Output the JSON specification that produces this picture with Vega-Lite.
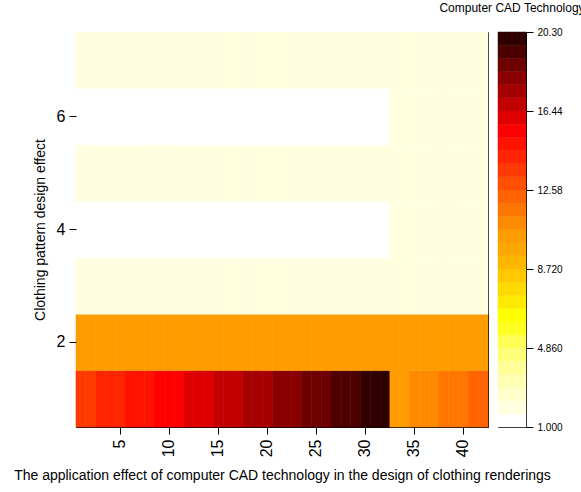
{
  "$schema": "https://vega.github.io/schema/vega-lite/v6.json",
  "background": "white",
  "padding": {"left": 13, "top": 1, "right": 0, "bottom": 0},
  "spacing": 10,
  "bounds": "flush",
  "config": {
    "font": "Liberation Sans",
    "view": {"stroke": "#000", "strokeWidth": 1},
    "axis": {"domain": false, "grid": false, "tickColor": "#000", "tickSize": 7, "labelColor": "#000", "titleColor": "#000", "labelFont": "Liberation Sans", "titleFont": "Liberation Sans", "titleFontWeight": "normal", "labelFontSize": 16, "titleFontSize": 14}
  },
  "datasets": {
    "cells": [
      {"x":1,"y":1,"z":13.5},{"x":2,"y":1,"z":13.5},{"x":3,"y":1,"z":14.2},{"x":4,"y":1,"z":14.2},{"x":5,"y":1,"z":14.2},{"x":6,"y":1,"z":14.8},{"x":7,"y":1,"z":14.8},{"x":8,"y":1,"z":14.8},{"x":9,"y":1,"z":15.5},{"x":10,"y":1,"z":15.5},{"x":11,"y":1,"z":15.5},{"x":12,"y":1,"z":16.1},{"x":13,"y":1,"z":16.1},{"x":14,"y":1,"z":16.1},{"x":15,"y":1,"z":16.8},{"x":16,"y":1,"z":16.8},{"x":17,"y":1,"z":16.8},{"x":18,"y":1,"z":17.4},{"x":19,"y":1,"z":17.4},{"x":20,"y":1,"z":17.4},{"x":21,"y":1,"z":18.0},{"x":22,"y":1,"z":18.0},{"x":23,"y":1,"z":18.0},{"x":24,"y":1,"z":18.7},{"x":25,"y":1,"z":18.7},{"x":26,"y":1,"z":18.7},{"x":27,"y":1,"z":19.3},{"x":28,"y":1,"z":19.3},{"x":29,"y":1,"z":19.3},{"x":30,"y":1,"z":20.0},{"x":31,"y":1,"z":20.0},{"x":32,"y":1,"z":20.0},{"x":33,"y":1,"z":10.3},{"x":34,"y":1,"z":10.3},{"x":35,"y":1,"z":11.0},{"x":36,"y":1,"z":11.0},{"x":37,"y":1,"z":11.0},{"x":38,"y":1,"z":11.6},{"x":39,"y":1,"z":11.6},{"x":40,"y":1,"z":11.6},{"x":41,"y":1,"z":12.2},{"x":42,"y":1,"z":12.2},
      {"x":1,"y":2,"z":10.3},{"x":2,"y":2,"z":10.3},{"x":3,"y":2,"z":10.3},{"x":4,"y":2,"z":10.3},{"x":5,"y":2,"z":10.3},{"x":6,"y":2,"z":10.3},{"x":7,"y":2,"z":10.3},{"x":8,"y":2,"z":10.3},{"x":9,"y":2,"z":10.3},{"x":10,"y":2,"z":10.3},{"x":11,"y":2,"z":10.3},{"x":12,"y":2,"z":10.3},{"x":13,"y":2,"z":10.3},{"x":14,"y":2,"z":10.3},{"x":15,"y":2,"z":10.3},{"x":16,"y":2,"z":10.3},{"x":17,"y":2,"z":10.3},{"x":18,"y":2,"z":10.3},{"x":19,"y":2,"z":10.3},{"x":20,"y":2,"z":10.3},{"x":21,"y":2,"z":10.3},{"x":22,"y":2,"z":10.3},{"x":23,"y":2,"z":10.3},{"x":24,"y":2,"z":10.3},{"x":25,"y":2,"z":10.3},{"x":26,"y":2,"z":10.3},{"x":27,"y":2,"z":10.3},{"x":28,"y":2,"z":10.3},{"x":29,"y":2,"z":10.3},{"x":30,"y":2,"z":10.3},{"x":31,"y":2,"z":10.3},{"x":32,"y":2,"z":10.3},{"x":33,"y":2,"z":10.3},{"x":34,"y":2,"z":10.3},{"x":35,"y":2,"z":10.3},{"x":36,"y":2,"z":10.3},{"x":37,"y":2,"z":10.3},{"x":38,"y":2,"z":10.3},{"x":39,"y":2,"z":10.3},{"x":40,"y":2,"z":10.3},{"x":41,"y":2,"z":10.3},{"x":42,"y":2,"z":10.3},
      {"x":1,"y":3,"z":2.0},{"x":2,"y":3,"z":2.0},{"x":3,"y":3,"z":2.0},{"x":4,"y":3,"z":2.0},{"x":5,"y":3,"z":2.0},{"x":6,"y":3,"z":2.0},{"x":7,"y":3,"z":2.0},{"x":8,"y":3,"z":2.0},{"x":9,"y":3,"z":2.0},{"x":10,"y":3,"z":2.0},{"x":11,"y":3,"z":2.0},{"x":12,"y":3,"z":2.0},{"x":13,"y":3,"z":2.0},{"x":14,"y":3,"z":2.0},{"x":15,"y":3,"z":2.0},{"x":16,"y":3,"z":2.0},{"x":17,"y":3,"z":2.0},{"x":18,"y":3,"z":2.0},{"x":19,"y":3,"z":2.0},{"x":20,"y":3,"z":2.0},{"x":21,"y":3,"z":2.0},{"x":22,"y":3,"z":2.0},{"x":23,"y":3,"z":2.0},{"x":24,"y":3,"z":2.0},{"x":25,"y":3,"z":2.0},{"x":26,"y":3,"z":2.0},{"x":27,"y":3,"z":2.0},{"x":28,"y":3,"z":2.0},{"x":29,"y":3,"z":2.0},{"x":30,"y":3,"z":2.0},{"x":31,"y":3,"z":2.0},{"x":32,"y":3,"z":2.0},{"x":33,"y":3,"z":2.0},{"x":34,"y":3,"z":2.0},{"x":35,"y":3,"z":2.0},{"x":36,"y":3,"z":2.0},{"x":37,"y":3,"z":2.0},{"x":38,"y":3,"z":2.0},{"x":39,"y":3,"z":2.0},{"x":40,"y":3,"z":2.0},{"x":41,"y":3,"z":2.0},{"x":42,"y":3,"z":2.0},
      {"x":1,"y":4,"z":1.0},{"x":2,"y":4,"z":1.0},{"x":3,"y":4,"z":1.0},{"x":4,"y":4,"z":1.0},{"x":5,"y":4,"z":1.0},{"x":6,"y":4,"z":1.0},{"x":7,"y":4,"z":1.0},{"x":8,"y":4,"z":1.0},{"x":9,"y":4,"z":1.0},{"x":10,"y":4,"z":1.0},{"x":11,"y":4,"z":1.0},{"x":12,"y":4,"z":1.0},{"x":13,"y":4,"z":1.0},{"x":14,"y":4,"z":1.0},{"x":15,"y":4,"z":1.0},{"x":16,"y":4,"z":1.0},{"x":17,"y":4,"z":1.0},{"x":18,"y":4,"z":1.0},{"x":19,"y":4,"z":1.0},{"x":20,"y":4,"z":1.0},{"x":21,"y":4,"z":1.0},{"x":22,"y":4,"z":1.0},{"x":23,"y":4,"z":1.0},{"x":24,"y":4,"z":1.0},{"x":25,"y":4,"z":1.0},{"x":26,"y":4,"z":1.0},{"x":27,"y":4,"z":1.0},{"x":28,"y":4,"z":1.0},{"x":29,"y":4,"z":1.0},{"x":30,"y":4,"z":1.0},{"x":31,"y":4,"z":1.0},{"x":32,"y":4,"z":1.0},{"x":33,"y":4,"z":2.0},{"x":34,"y":4,"z":2.0},{"x":35,"y":4,"z":2.0},{"x":36,"y":4,"z":2.0},{"x":37,"y":4,"z":2.0},{"x":38,"y":4,"z":2.0},{"x":39,"y":4,"z":2.0},{"x":40,"y":4,"z":2.0},{"x":41,"y":4,"z":2.0},{"x":42,"y":4,"z":2.0},
      {"x":1,"y":5,"z":2.0},{"x":2,"y":5,"z":2.0},{"x":3,"y":5,"z":2.0},{"x":4,"y":5,"z":2.0},{"x":5,"y":5,"z":2.0},{"x":6,"y":5,"z":2.0},{"x":7,"y":5,"z":2.0},{"x":8,"y":5,"z":2.0},{"x":9,"y":5,"z":2.0},{"x":10,"y":5,"z":2.0},{"x":11,"y":5,"z":2.0},{"x":12,"y":5,"z":2.0},{"x":13,"y":5,"z":2.0},{"x":14,"y":5,"z":2.0},{"x":15,"y":5,"z":2.0},{"x":16,"y":5,"z":2.0},{"x":17,"y":5,"z":2.0},{"x":18,"y":5,"z":2.0},{"x":19,"y":5,"z":2.0},{"x":20,"y":5,"z":2.0},{"x":21,"y":5,"z":2.0},{"x":22,"y":5,"z":2.0},{"x":23,"y":5,"z":2.0},{"x":24,"y":5,"z":2.0},{"x":25,"y":5,"z":2.0},{"x":26,"y":5,"z":2.0},{"x":27,"y":5,"z":2.0},{"x":28,"y":5,"z":2.0},{"x":29,"y":5,"z":2.0},{"x":30,"y":5,"z":2.0},{"x":31,"y":5,"z":2.0},{"x":32,"y":5,"z":2.0},{"x":33,"y":5,"z":2.0},{"x":34,"y":5,"z":2.0},{"x":35,"y":5,"z":2.0},{"x":36,"y":5,"z":2.0},{"x":37,"y":5,"z":2.0},{"x":38,"y":5,"z":2.0},{"x":39,"y":5,"z":2.0},{"x":40,"y":5,"z":2.0},{"x":41,"y":5,"z":2.0},{"x":42,"y":5,"z":2.0},
      {"x":1,"y":6,"z":1.0},{"x":2,"y":6,"z":1.0},{"x":3,"y":6,"z":1.0},{"x":4,"y":6,"z":1.0},{"x":5,"y":6,"z":1.0},{"x":6,"y":6,"z":1.0},{"x":7,"y":6,"z":1.0},{"x":8,"y":6,"z":1.0},{"x":9,"y":6,"z":1.0},{"x":10,"y":6,"z":1.0},{"x":11,"y":6,"z":1.0},{"x":12,"y":6,"z":1.0},{"x":13,"y":6,"z":1.0},{"x":14,"y":6,"z":1.0},{"x":15,"y":6,"z":1.0},{"x":16,"y":6,"z":1.0},{"x":17,"y":6,"z":1.0},{"x":18,"y":6,"z":1.0},{"x":19,"y":6,"z":1.0},{"x":20,"y":6,"z":1.0},{"x":21,"y":6,"z":1.0},{"x":22,"y":6,"z":1.0},{"x":23,"y":6,"z":1.0},{"x":24,"y":6,"z":1.0},{"x":25,"y":6,"z":1.0},{"x":26,"y":6,"z":1.0},{"x":27,"y":6,"z":1.0},{"x":28,"y":6,"z":1.0},{"x":29,"y":6,"z":1.0},{"x":30,"y":6,"z":1.0},{"x":31,"y":6,"z":1.0},{"x":32,"y":6,"z":1.0},{"x":33,"y":6,"z":2.0},{"x":34,"y":6,"z":2.0},{"x":35,"y":6,"z":2.0},{"x":36,"y":6,"z":2.0},{"x":37,"y":6,"z":2.0},{"x":38,"y":6,"z":2.0},{"x":39,"y":6,"z":2.0},{"x":40,"y":6,"z":2.0},{"x":41,"y":6,"z":2.0},{"x":42,"y":6,"z":2.0},
      {"x":1,"y":7,"z":2.0},{"x":2,"y":7,"z":2.0},{"x":3,"y":7,"z":2.0},{"x":4,"y":7,"z":2.0},{"x":5,"y":7,"z":2.0},{"x":6,"y":7,"z":2.0},{"x":7,"y":7,"z":2.0},{"x":8,"y":7,"z":2.0},{"x":9,"y":7,"z":2.0},{"x":10,"y":7,"z":2.0},{"x":11,"y":7,"z":2.0},{"x":12,"y":7,"z":2.0},{"x":13,"y":7,"z":2.0},{"x":14,"y":7,"z":2.0},{"x":15,"y":7,"z":2.0},{"x":16,"y":7,"z":2.0},{"x":17,"y":7,"z":2.0},{"x":18,"y":7,"z":2.0},{"x":19,"y":7,"z":2.0},{"x":20,"y":7,"z":2.0},{"x":21,"y":7,"z":2.0},{"x":22,"y":7,"z":2.0},{"x":23,"y":7,"z":2.0},{"x":24,"y":7,"z":2.0},{"x":25,"y":7,"z":2.0},{"x":26,"y":7,"z":2.0},{"x":27,"y":7,"z":2.0},{"x":28,"y":7,"z":2.0},{"x":29,"y":7,"z":2.0},{"x":30,"y":7,"z":2.0},{"x":31,"y":7,"z":2.0},{"x":32,"y":7,"z":2.0},{"x":33,"y":7,"z":2.0},{"x":34,"y":7,"z":2.0},{"x":35,"y":7,"z":2.0},{"x":36,"y":7,"z":2.0},{"x":37,"y":7,"z":2.0},{"x":38,"y":7,"z":2.0},{"x":39,"y":7,"z":2.0},{"x":40,"y":7,"z":2.0},{"x":41,"y":7,"z":2.0},{"x":42,"y":7,"z":2.0}
    ],
    "bands": [
      {"z":1,"z2":1.6433},{"z":1.6433,"z2":2.2867},{"z":2.2867,"z2":2.93},{"z":2.93,"z2":3.5733},{"z":3.5733,"z2":4.2167},{"z":4.2167,"z2":4.86},{"z":4.86,"z2":5.5033},{"z":5.5033,"z2":6.1467},{"z":6.1467,"z2":6.79},{"z":6.79,"z2":7.4333},{"z":7.4333,"z2":8.0767},{"z":8.0767,"z2":8.72},{"z":8.72,"z2":9.3633},{"z":9.3633,"z2":10.0067},{"z":10.0067,"z2":10.65},{"z":10.65,"z2":11.2933},{"z":11.2933,"z2":11.9367},{"z":11.9367,"z2":12.58},{"z":12.58,"z2":13.2233},{"z":13.2233,"z2":13.8667},{"z":13.8667,"z2":14.51},{"z":14.51,"z2":15.1533},{"z":15.1533,"z2":15.7967},{"z":15.7967,"z2":16.44},{"z":16.44,"z2":17.0833},{"z":17.0833,"z2":17.7267},{"z":17.7267,"z2":18.37},{"z":18.37,"z2":19.0133},{"z":19.0133,"z2":19.6567},{"z":19.6567,"z2":20.3}
    ]
  },
  "hconcat": [
    {
      "width": 412,
      "height": 395,
      "data": {"name": "cells"},
      "mark": {"type": "rect", "strokeWidth": 0.6},
      "encoding": {
        "x": {"field": "x", "type": "ordinal", "scale": {"paddingInner": 0, "paddingOuter": 0},
              "axis": {"values": [5,10,15,20,25,30,35,40], "labelAngle": -90, "labelPadding": 5, "titlePadding": 12,
                       "title": "The application effect of computer CAD technology in the design of clothing renderings"}},
        "y": {"field": "y", "type": "ordinal", "sort": "descending", "scale": {"paddingInner": 0, "paddingOuter": 0},
              "axis": {"values": [2,4,6], "labelAngle": 0, "labelPadding": 4, "titlePadding": 9, "title": "Clothing pattern design effect"}},
        "color": {"field": "z", "type": "quantitative", "legend": null,
                  "scale": {"type": "threshold",
                            "domain": [1.6433,2.2867,2.93,3.5733,4.2167,4.86,5.5033,6.1467,6.79,7.4333,8.0767,8.72,9.3633,10.0067,10.65,11.2933,11.9367,12.58,13.2233,13.8667,14.51,15.1533,15.7967,16.44,17.0833,17.7267,18.37,19.0133,19.6567],
                            "range": ["#FFFFFF","#FFFFE0","#FFFFCC","#FFFFB3","#FFFF99","#FFFF7A","#FFFF55","#FFFF22","#FFFF00","#FFEB00","#FFDA00","#FFC800","#FFB600","#FFA600","#FF9C00","#FF8A00","#FF7700","#FF6400","#FF4F00","#FF3A00","#FF2500","#FF1200","#FF0000","#DE0000","#C20000","#A60000","#8A0000","#6E0000","#4E0000","#300000"]}},
        "stroke": {"field": "z", "type": "quantitative", "legend": null,
                  "scale": {"type": "threshold",
                            "domain": [1.6433,2.2867,2.93,3.5733,4.2167,4.86,5.5033,6.1467,6.79,7.4333,8.0767,8.72,9.3633,10.0067,10.65,11.2933,11.9367,12.58,13.2233,13.8667,14.51,15.1533,15.7967,16.44,17.0833,17.7267,18.37,19.0133,19.6567],
                            "range": ["#FFFFFF","#FFFFE0","#FFFFCC","#FFFFB3","#FFFF99","#FFFF7A","#FFFF55","#FFFF22","#FFFF00","#FFEB00","#FFDA00","#FFC800","#FFB600","#FFA600","#FF9C00","#FF8A00","#FF7700","#FF6400","#FF4F00","#FF3A00","#FF2500","#FF1200","#FF0000","#DE0000","#C20000","#A60000","#8A0000","#6E0000","#4E0000","#300000"]}}
      }
    },
    {
      "width": 28,
      "height": 395,
      "data": {"name": "bands"},
      "title": {"text": "Computer CAD Technology", "fontSize": 12, "fontWeight": "normal", "anchor": "middle", "offset": 12, "color": "#000", "font": "Liberation Sans"},
      "mark": {"type": "rect", "strokeWidth": 0.5},
      "encoding": {
        "y": {"field": "z", "type": "quantitative", "scale": {"domain": [1, 20.3], "nice": false, "zero": false},
              "axis": {"orient": "right", "values": [1,4.86,8.72,12.58,16.44,20.3], "format": ".4r", "labelFontSize": 10, "labelPadding": 4, "labelFlush": false, "title": null}},
        "y2": {"field": "z2"},
        "color": {"field": "z", "type": "quantitative", "legend": null,
                  "scale": {"type": "threshold",
                            "domain": [1.6433,2.2867,2.93,3.5733,4.2167,4.86,5.5033,6.1467,6.79,7.4333,8.0767,8.72,9.3633,10.0067,10.65,11.2933,11.9367,12.58,13.2233,13.8667,14.51,15.1533,15.7967,16.44,17.0833,17.7267,18.37,19.0133,19.6567],
                            "range": ["#FFFFFF","#FFFFE0","#FFFFCC","#FFFFB3","#FFFF99","#FFFF7A","#FFFF55","#FFFF22","#FFFF00","#FFEB00","#FFDA00","#FFC800","#FFB600","#FFA600","#FF9C00","#FF8A00","#FF7700","#FF6400","#FF4F00","#FF3A00","#FF2500","#FF1200","#FF0000","#DE0000","#C20000","#A60000","#8A0000","#6E0000","#4E0000","#300000"]}},
        "stroke": {"field": "z", "type": "quantitative", "legend": null,
                  "scale": {"type": "threshold",
                            "domain": [1.6433,2.2867,2.93,3.5733,4.2167,4.86,5.5033,6.1467,6.79,7.4333,8.0767,8.72,9.3633,10.0067,10.65,11.2933,11.9367,12.58,13.2233,13.8667,14.51,15.1533,15.7967,16.44,17.0833,17.7267,18.37,19.0133,19.6567],
                            "range": ["#FFFFFF","#FFFFE0","#FFFFCC","#FFFFB3","#FFFF99","#FFFF7A","#FFFF55","#FFFF22","#FFFF00","#FFEB00","#FFDA00","#FFC800","#FFB600","#FFA600","#FF9C00","#FF8A00","#FF7700","#FF6400","#FF4F00","#FF3A00","#FF2500","#FF1200","#FF0000","#DE0000","#C20000","#A60000","#8A0000","#6E0000","#4E0000","#300000"]}}
      }
    }
  ]
}
